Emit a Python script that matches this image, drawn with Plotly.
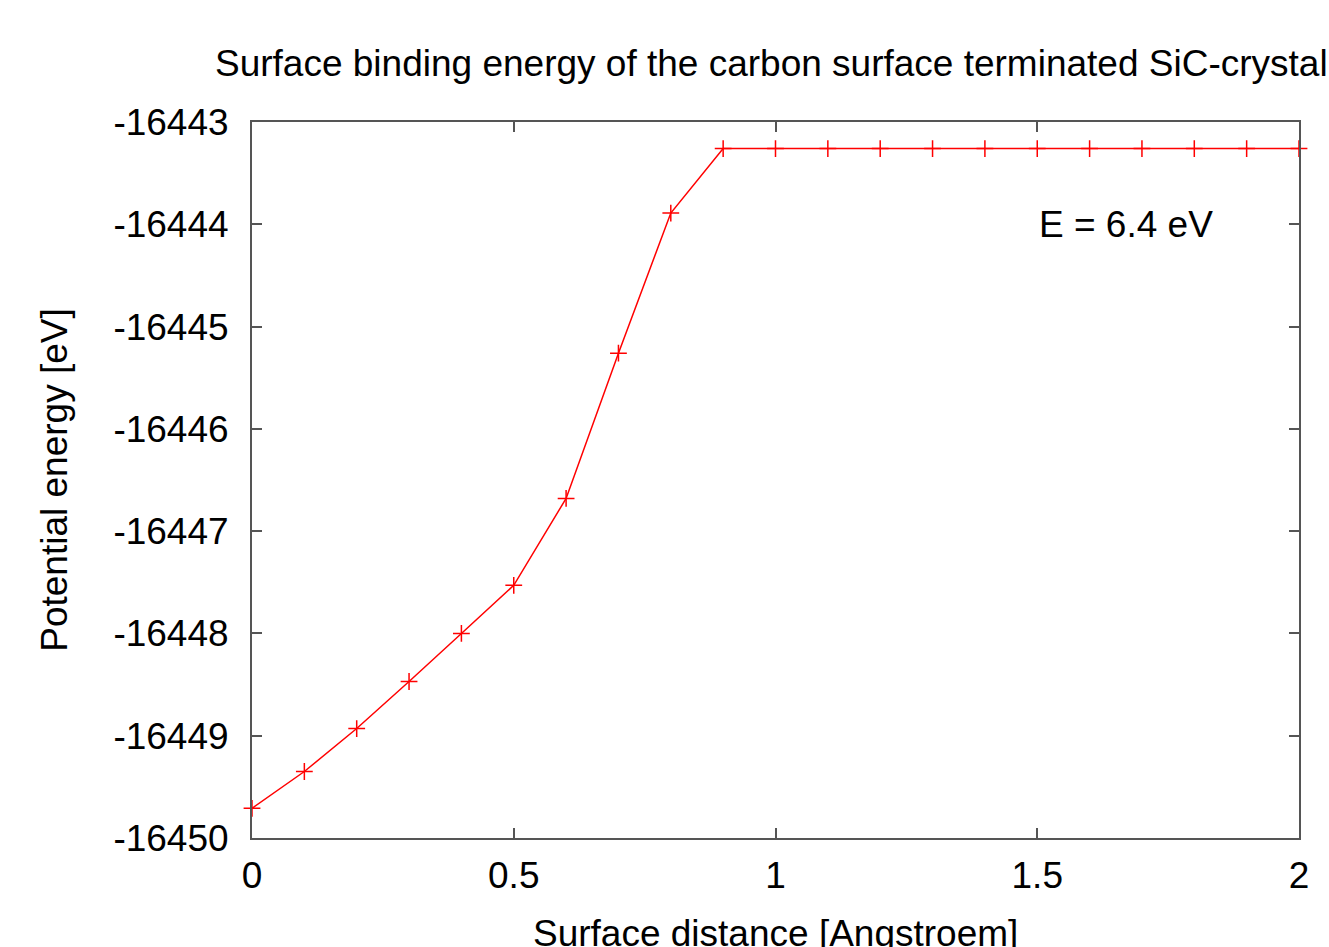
import plotly.graph_objects as go

distance = [0.0, 0.1, 0.2, 0.3, 0.4, 0.5, 0.6, 0.7, 0.8, 0.9, 1.0, 1.1, 1.2, 1.3, 1.4, 1.5, 1.6, 1.7, 1.8, 1.9, 2.0]
energy = [-16449.71, -16449.35, -16448.93, -16448.47, -16448.00, -16447.53, -16446.68, -16445.26,
          -16443.89, -16443.26, -16443.26, -16443.26, -16443.26, -16443.26, -16443.26, -16443.26,
          -16443.26, -16443.26, -16443.26, -16443.26, -16443.26]
x_ticks = [0, 0.5, 1, 1.5, 2]
x_tick_labels = ["0", "0.5", "1", "1.5", "2"]
y_ticks = [-16450, -16449, -16448, -16447, -16446, -16445, -16444, -16443]
y_tick_labels = [str(v) for v in y_ticks]

FONT = "Liberation Sans, Arial, sans-serif"
FS = 37

fig = go.Figure()
fig.add_trace(go.Scatter(
    x=distance, y=energy, mode="lines+markers",
    line=dict(color="#ff0000", width=1.5),
    marker=dict(symbol="cross-thin", size=12, line=dict(color="#ff0000", width=1.5)),
    cliponaxis=False, showlegend=False,
))

fig.add_annotation(x=1.5, y=-16444, xref="x", yref="y", text="E = 6.4 eV",
                   showarrow=False, xanchor="left", yanchor="middle",
                   font=dict(family=FONT, size=FS, color="#000"))

# title (clipped at the right page edge as in the original)
fig.add_annotation(x=-0.0373, y=1 + (122 - 64) / 716, xref="paper", yref="paper",
                   text="Surface binding energy of the carbon surface terminated SiC-crystal",
                   showarrow=False, xanchor="left", yanchor="middle",
                   font=dict(family=FONT, size=FS, color="#000"))

# x-axis title (partially below page edge as in the original)
fig.add_annotation(x=0.5, y=-(933 - 838) / 716, xref="paper", yref="paper",
                   text="Surface distance [Angstroem]",
                   showarrow=False, xanchor="center", yanchor="middle",
                   font=dict(family=FONT, size=FS, color="#000"))

fig.update_layout(
    width=1329, height=947,
    margin=dict(l=252, r=30, t=122, b=109),
    paper_bgcolor="white", plot_bgcolor="white",
    font=dict(family=FONT, size=FS, color="#000"),
)
fig.update_xaxes(
    range=[0, 2], tickvals=x_ticks, ticktext=x_tick_labels, automargin=False,
    showgrid=False, zeroline=False, showline=True, linecolor="#555", linewidth=2,
    mirror="ticks", ticks="inside", ticklen=10, tickcolor="#555", tickwidth=1.5,
    ticklabelstandoff=4,
)
fig.update_yaxes(
    range=[-16450, -16443], tickvals=y_ticks, ticktext=y_tick_labels, automargin=False,
    showgrid=False, zeroline=False, showline=True, linecolor="#555", linewidth=2,
    mirror="ticks", ticks="inside", ticklen=10, tickcolor="#555", tickwidth=1.5,
    ticklabelstandoff=14,
    title=dict(text="Potential energy [eV]", standoff=34, font=dict(size=FS)),
)

fig.write_html("out.html")
